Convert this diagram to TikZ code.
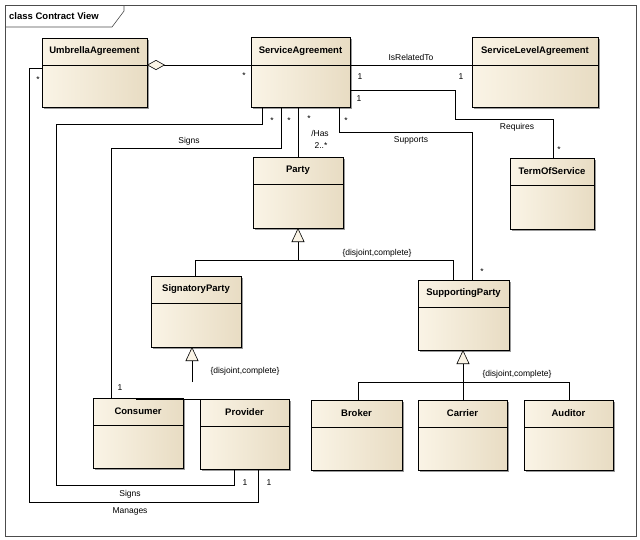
\documentclass[tikz,border=0pt]{standalone}
\usepackage{fontspec}
\setmainfont{Liberation Sans}
\usetikzlibrary{calc,shadows,arrows.meta}
\definecolor{clsleft}{RGB}{250,244,230}
\definecolor{clsright}{RGB}{232,220,195}

\tikzset{
  cls/.style={draw, thick, rectangle, inner sep=0, outer sep=0,
    left color=clsleft, right color=clsright,
    drop shadow={shadow xshift=2pt, shadow yshift=-2pt, fill=black!40, opacity=1}},
  ctitle/.style={font=\fontsize{9.5}{11}\selectfont\bfseries, inner sep=0},
  lbl/.style={font=\fontsize{8.5}{10}\selectfont, inner sep=1pt},
  assoc/.style={draw, semithick},
  gen/.style={draw, semithick, -{Triangle[open, length=14pt, width=13pt, fill=clsleft]}},
}

% name, x, y, width, height, header height, title
\newcommand{\umlclass}[7]{%
  \node[cls, anchor=north west, minimum width=#4pt, minimum height=#5pt] (#1) at (#2,#3) {};
  \draw[semithick] ([yshift=-#6pt]#1.north west) -- ([yshift=-#6pt]#1.north east);
  \path (#1.north) ++(0,#6/2) node[ctitle] (#1-t) {#7};
}

\begin{document}
\begin{tikzpicture}[x=1pt, y=-1pt]
\useasboundingbox (0,0) rectangle (640,539);
% frame
\draw[semithick, black!70] (5,5) rectangle (636,536);
\draw[semithick, black!70] (5,27) -- (112,27) -- (124,11) -- (124,5);
\node[ctitle, anchor=west] (frame) at (9,16) {class Contract View};

% classes
\umlclass{umb}{42}{38}{105}{69}{27}{UmbrellaAgreement}
\umlclass{sa}{251}{37}{99}{70}{28}{ServiceAgreement}
\umlclass{sla}{472}{37}{126}{70}{28}{ServiceLevelAgreement}
\umlclass{tos}{510}{158}{84}{71}{27}{TermOfService}
\umlclass{party}{253}{157}{90}{71}{27}{Party}
\umlclass{sig}{151}{276}{90}{71}{27}{SignatoryParty}
\umlclass{sup}{418}{280}{91}{70}{27}{SupportingParty}
\umlclass{con}{93}{398}{90}{70}{27}{Consumer}
\umlclass{pro}{200}{399}{89}{70}{27}{Provider}
\umlclass{bro}{311}{400}{91}{70}{27}{Broker}
\umlclass{car}{418}{400}{89}{70}{27}{Carrier}
\umlclass{aud}{524}{400}{89}{70}{27}{Auditor}

% associations
\draw[assoc, -{Diamond[open, length=18pt, width=10pt, fill=clsleft]}] (sa.west |- 0,65) -- (umb.east |- 0,65);
\node[lbl] at (244,76) {*};
\draw[assoc] (sa.east |- 0,65) -- (sla.west |- 0,65);
\node[lbl] at (411,57) {IsRelatedTo};
\node[lbl] at (360,77) {1};
\node[lbl] at (461,77) {1};
\draw[assoc] (sa.east |- 0,90) -| (455,119) -| (tos.north -| 553,0);
\node[lbl] at (359,99) {1};
\node[lbl] at (517,127) {Requires};
\node[lbl] at (559,150) {*};
\draw[assoc] (sa.south -| 298,0) -- (party.north -| 298,0);
\node[lbl] at (309,119) {*};
\node[lbl] at (320,133) {/Has};
\node[lbl] at (321,146) {2..*};
\draw[assoc] (sa.south -| 339,0) -- (339,132) -| (sup.north -| 472,0);
\node[lbl] at (346,121) {*};
\node[lbl] at (411,140) {Supports};
\node[lbl] at (482,272) {*};
\draw[assoc] (sa.south -| 281,0) -- (281,148) -| (con.north -| 111,0);
\node[lbl] at (289,121) {*};
\node[lbl] at (189,141) {Signs};
\node[lbl] at (120,388) {1};
\draw[assoc] (sa.south -| 262,0) -- (262,124) -| (56,485) -| (pro.south -| 234,0);
\node[lbl] at (272,121) {*};
\node[lbl] at (130,494) {Signs};
\node[lbl] at (245,483) {1};
\draw[assoc] (umb.west |- 0,68) -| (29,502) -| (pro.south -| 258,0);
\node[lbl] at (38,80) {*};
\node[lbl] at (130,511) {Manages};
\node[lbl] at (269,483) {1};

% generalizations
\draw[assoc] (sig.north -| 195,0) |- (453,260) -- (sup.north -| 453,0);
\draw[gen] (298,260) -- (party.south -| 298,0);
\node[lbl] at (377,253) {\{disjoint,complete\}};
\draw[assoc] (con.north -| 136,0) |- (pro.north -| 245,382) -- (pro.north -| 245,0);
\draw[gen] (192,382) -- (sig.south -| 192,0);
\node[lbl] at (245,371) {\{disjoint,complete\}};
\draw[assoc] (bro.north -| 358,0) |- (569,382) -- (aud.north -| 569,0);
\draw[gen] (car.north -| 463,0) -- (sup.south -| 463,0);
\node[lbl] at (517,374) {\{disjoint,complete\}};
\end{tikzpicture}
\end{document}
